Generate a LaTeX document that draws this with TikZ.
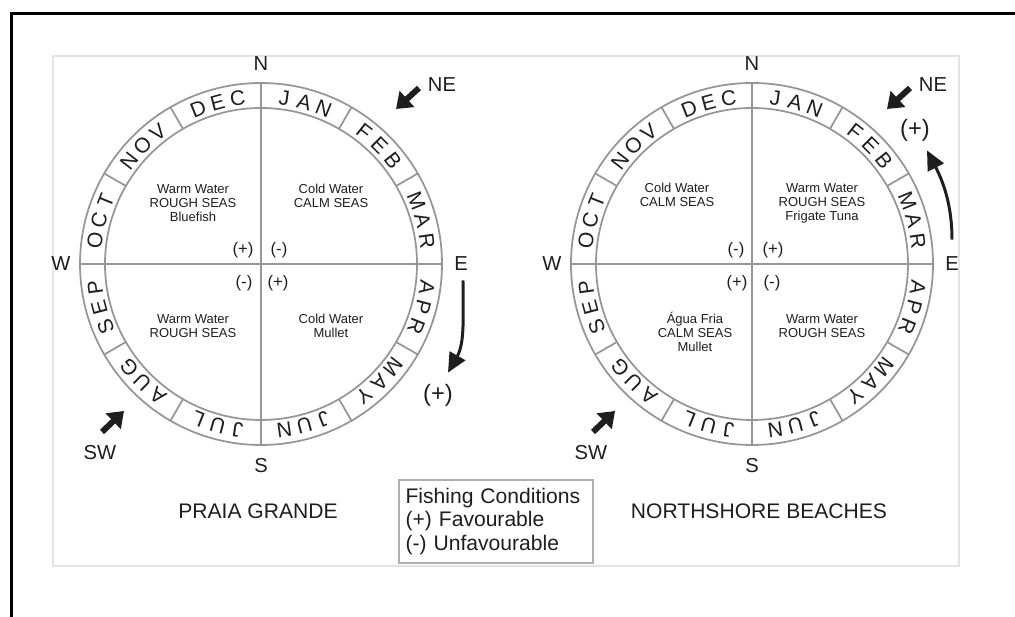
\documentclass[tikz,border=0pt]{standalone}
\usepackage{fontspec}
\setmainfont{Liberation Sans}
\usepackage{xcolor}
\definecolor{ringGray}{RGB}{150,150,150}
\definecolor{frameGray}{RGB}{228,228,228}
\definecolor{legendGray}{RGB}{175,175,175}
\definecolor{inkColor}{RGB}{30,30,30}
\usetikzlibrary{arrows.meta, positioning, calc}

\begin{document}
\begin{tikzpicture}[x=0.02cm, y=0.02cm,
    ring/.style={draw=ringGray, line width=1pt},
    month/.style={inner sep=0pt, text=inkColor, font=\fontsize{12}{12}\selectfont},
    compass/.style={inner sep=0pt, text=inkColor, font=\fontsize{11.5}{12}\selectfont},
    quad/.style={align=center, inner sep=0pt, text=inkColor, font=\fontsize{7.4}{8}\selectfont},
    sign/.style={inner sep=0pt, text=inkColor, font=\fontsize{9.5}{10}\selectfont},
    bigsign/.style={inner sep=0pt, text=inkColor, font=\fontsize{13.5}{14}\selectfont},
    wind/.style={line width=3.4pt, inkColor, -{Triangle[length=8.5pt, width=12pt]}},
    season/.style={line width=1.7pt, inkColor, -{Triangle[length=11pt, width=10pt]}},
    title/.style={inner sep=0pt, text=inkColor, font=\fontsize{12}{14}\selectfont}]
    \useasboundingbox (0,0) rectangle (1015,617);
    \draw[line width=2pt] (1015,603.5) -- (11.5,603.5) -- (11.5,0);
    \draw[frameGray, line width=0.6pt] (53,51) rectangle (959,561);
    \foreach \cx/\nm in {261/L, 752/R} {
        \coordinate (\nm) at (\cx,353);
        \draw[ring] (\nm) circle[radius=181] (\nm) circle[radius=156];
        \draw[ring] ($(\nm)+(-181,0)$) -- ($(\nm)+(181,0)$);
        \draw[ring] ($(\nm)+(0,-181)$) -- ($(\nm)+(0,181)$);
        \foreach \a in {30,60,120,150,210,240,300,330}
            \draw[ring] ($(\nm)+(\a:156)$) -- ($(\nm)+(\a:181)$);
        \foreach \la/\lb/\lc [count=\i] in {J/A/N, F/E/B, M/A/R, A/P/R, M/A/Y, J/U/N,
                                            J/U/L, A/U/G, S/E/P, O/C/T, N/O/V, D/E/C} {
            \pgfmathsetmacro{\th}{105-30*\i}
            \node[month, rotate=\th-83] (\nm-m\i-a) at ($(\nm)+(\th+7:167.5)$) {\la};
            \node[month, rotate=\th-90] (\nm-m\i-b) at ($(\nm)+(\th:167.5)$) {\lb};
            \node[month, rotate=\th-97] (\nm-m\i-c) at ($(\nm)+(\th-7:167.5)$) {\lc};
        }
        \node[compass] (\nm-N) at ($(\nm)+(0,200)$) {N};
        \node[compass] (\nm-S) at ($(\nm)+(0,-202)$) {S};
        \node[compass] (\nm-W) at ($(\nm)+(-200,0)$) {W};
        \node[compass] (\nm-E) at ($(\nm)+(200,0)$) {E};
        \node[compass] (\nm-NE) at ($(\nm)+(181,179)$) {NE};
        \node[compass] (\nm-SW) at ($(\nm)+(-161,-189)$) {SW};
        \draw[wind] ($(\nm)+(158,176)$) -- ($(\nm)+(135,155)$);
        \draw[wind] ($(\nm)+(-159,-168)$) -- ($(\nm)+(-137,-147)$);
    }
    \node[quad] (L-nw) at (193,414) {Warm Water\\ROUGH SEAS\\Bluefish};
    \node[quad] (L-ne) at (331,421) {Cold Water\\CALM SEAS};
    \node[quad] (L-sw) at (193,291) {Warm Water\\ROUGH SEAS};
    \node[quad] (L-se) at (331,291) {Cold Water\\Mullet};
    \node[quad] (R-nw) at (677,422) {Cold Water\\CALM SEAS};
    \node[quad] (R-ne) at (822,414) {Warm Water\\ROUGH SEAS\\Frigate Tuna};
    \node[quad] (R-sw) at (695,285) {Água Fria\\CALM SEAS\\Mullet};
    \node[quad] (R-se) at (822,291) {Warm Water\\ROUGH SEAS};
    \node[sign] (L-s1) at (243,367) {(+)};
    \node[sign] (L-s2) at (279,367) {(-)};
    \node[sign] (L-s3) at (244,334) {(-)};
    \node[sign] (L-s4) at (278,334) {(+)};
    \node[sign] (R-s1) at (736,367) {(-)};
    \node[sign] (R-s2) at (773,367) {(+)};
    \node[sign] (R-s3) at (737,334) {(+)};
    \node[sign] (R-s4) at (772,334) {(-)};
    \node[bigsign] (L-plus) at (438,222) {(+)};
    \node[bigsign] (R-plus) at (915,487) {(+)};
    \draw[season] ($(L-E.south)+(2,-9)$) .. controls +(0,-35) and +(17,30) .. ($(L-plus.north)+(10,11)$);
    \draw[season] ($(R-E.north)+(0,17)$) .. controls +(0,35) and +(16,-31) .. ($(R-plus.south)+(12,-9)$);
    \node[title] (L-title) at (258,106) {PRAIA GRANDE};
    \node[title] (R-title) at (759,106) {NORTHSHORE BEACHES};
    \node[draw=legendGray, line width=0.8pt, align=left, text width=3.62cm,
          inner xsep=0.13cm, inner ysep=0.16cm, text=inkColor,
          font=\fontsize{12}{13.4}\selectfont] (legend) at (496,95.5)
          {Fishing Conditions\\(+) Favourable\\(-) Unfavourable};
\end{tikzpicture}
\end{document}
